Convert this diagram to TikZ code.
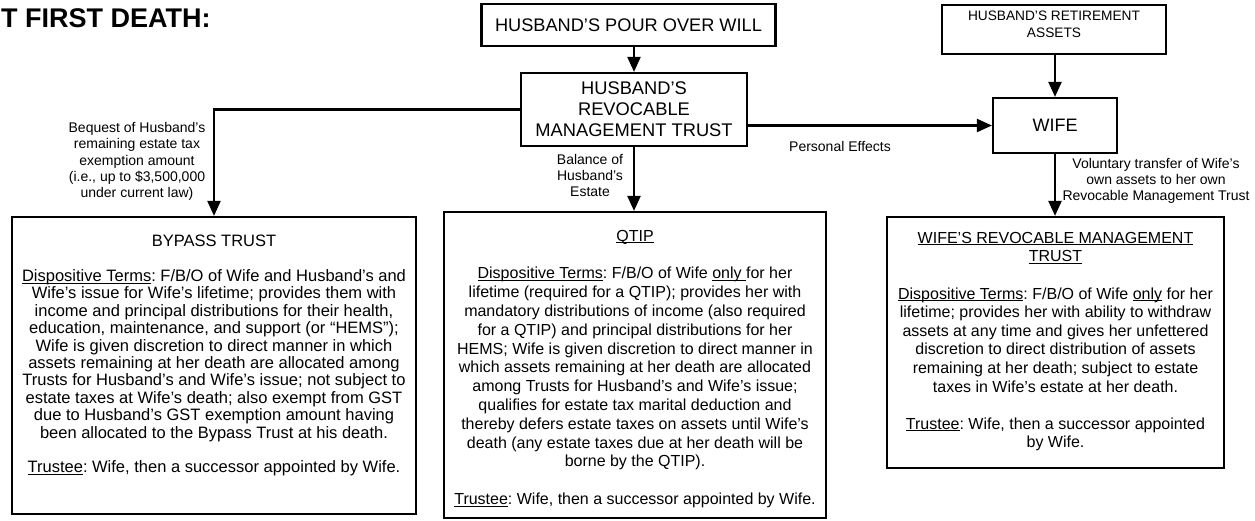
\documentclass[tikz,border=0pt]{standalone}
\usepackage{fontspec}
\setmainfont{Liberation Sans}
\usetikzlibrary{arrows.meta}
\newcommand\ulx[1]{\setbox0\hbox{#1}\rlap{\rule[-1.9pt]{\wd0}{0.9pt}}\box0\relax}
\frenchspacing
\begin{document}
\begin{tikzpicture}[x=1pt,y=-1pt,
  box/.style={draw, line width=2.2pt, inner sep=0pt},
  arr/.style={line width=2.2pt, -{Triangle[length=15pt,width=13pt]}},
  lab/.style={font=\fontsize{14}{16.2}\selectfont, align=center, inner sep=0pt},
  body/.style={anchor=north, align=center, inner sep=0pt}
]
\useasboundingbox (0,0) rectangle (1255,520);

\node[font=\fontsize{27}{30}\selectfont\bfseries, anchor=west, inner sep=0pt] (title) at (1,18) {T FIRST DEATH:};

\node[box, minimum width=294pt, minimum height=42pt, font=\fontsize{18.2}{21}\selectfont] (will) at (628.5,25) {HUSBAND’S POUR OVER WILL};
\node[box, minimum width=226pt, minimum height=73pt, align=center, font=\fontsize{18.3}{21}\selectfont] (hrmt) at (634,109.5) {HUSBAND’S\\REVOCABLE\\MANAGEMENT TRUST};
\node[box, minimum width=224pt, minimum height=49pt] (ret) at (1054,29.5) {};
\node[align=center, inner sep=0pt, font=\fontsize{13.7}{16.5}\selectfont] (rettxt) at (1054,24.5) {HUSBAND’S RETIREMENT\\ASSETS};
\node[box, minimum width=124pt, minimum height=55pt, font=\fontsize{18}{21}\selectfont] (wife) at (1055,125.5) {WIFE};

\node[box, minimum width=404pt, minimum height=297pt] (bypass) at (214,365.5) {};
\node[box, minimum width=382pt, minimum height=306pt] (qtip) at (635,365) {};
\node[box, minimum width=337pt, minimum height=251pt] (wrmt) at (1055.5,342.5) {};

\node[body, font=\fontsize{16.5}{17.4}\selectfont] (bypasstxt) at (214,235) {BYPASS TRUST\\[17.4pt]
\ulx{Dispositive Terms}: F/B/O of Wife and Husband’s and\\
Wife’s issue for Wife’s lifetime; provides them with\\
income and principal distributions for their health,\\
education, maintenance, and support (or “HEMS”);\\
Wife is given discretion to direct manner in which\\
assets remaining at her death are allocated among\\
Trusts for Husband’s and Wife’s issue; not subject to\\
estate taxes at Wife’s death; also exempt from GST\\
due to Husband’s GST exemption amount having\\
been allocated to the Bypass Trust at his death.\\[17.4pt]
\ulx{Trustee}: Wife, then a successor appointed by Wife.};

\node[body, font=\fontsize{16}{18.8}\selectfont] (qtiptxt) at (635,230) {\ulx{QTIP}\\[18.8pt]
\ulx{Dispositive Terms}: F/B/O of Wife \ulx{only\ }for her\\
lifetime (required for a QTIP); provides her with\\
mandatory distributions of income (also required\\
for a QTIP) and principal distributions for her\\
HEMS; Wife is given discretion to direct manner in\\
which assets remaining at her death are allocated\\
among Trusts for Husband’s and Wife’s issue;\\
qualifies for estate tax marital deduction and\\
thereby defers estate taxes on assets until Wife’s\\
death (any estate taxes due at her death will be\\
borne by the QTIP).\\[18.8pt]
\ulx{Trustee}: Wife, then a successor appointed by Wife.};

\node[body, font=\fontsize{16}{18.6}\selectfont] (wrmttxt) at (1055.5,232) {\ulx{WIFE’S REVOCABLE MANAGEMENT}\\
\ulx{TRUST}\\[18.6pt]
\ulx{Dispositive Terms}: F/B/O of Wife \ulx{only} for her\\
lifetime; provides her with ability to withdraw\\
assets at any time and gives her unfettered\\
discretion to direct distribution of assets\\
remaining at her death; subject to estate\\
taxes in Wife’s estate at her death.\\[18.6pt]
\ulx{Trustee}: Wife, then a successor appointed\\
by Wife.};

\draw[arr] (hrmt.north |- will.south) -- (hrmt.north);
\draw[arr] (wife.north |- ret.south) -- (wife.north);
\draw[arr] (hrmt.east |- wife.west) -- (wife.west);
\draw[arr] (hrmt.west) -| (bypass.north);
\draw[arr] (hrmt.south) -- (hrmt.south |- qtip.north);
\draw[arr] (wife.south) -- (wife.south |- wrmt.north);

\node[lab] (lbeq) at (137,161.5) {Bequest of Husband’s\\remaining estate tax\\exemption amount\\(i.e., up to \$3,500,000\\under current law)};
\node[lab] (lbal) at (590,175.5) {Balance of\\Husband’s\\Estate};
\node[lab] (lpe) at (840,146) {Personal Effects};
\node[lab] (lvol) at (1156,181) {Voluntary transfer of Wife’s\\own assets to her own\\Revocable Management Trust};
\end{tikzpicture}
\end{document}
